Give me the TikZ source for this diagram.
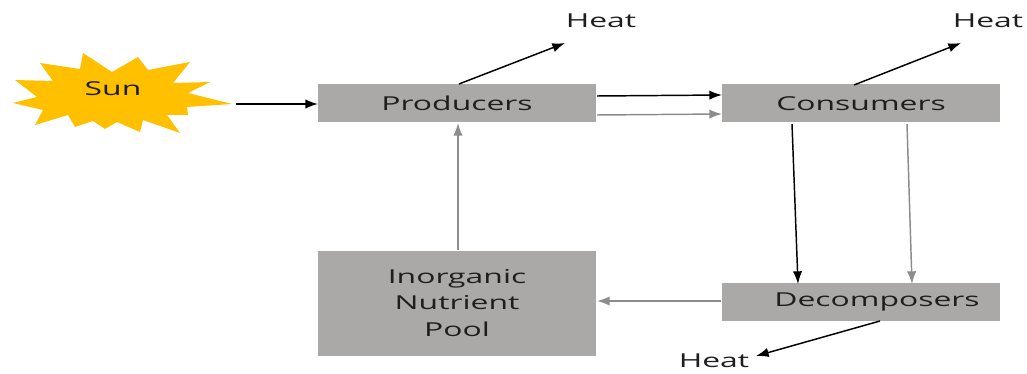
\documentclass[tikz,border=0pt]{standalone}
\usepackage{fontspec}
\setmainfont[FakeStretch=1.66]{Open Sans}
\usetikzlibrary{arrows.meta}
\definecolor{boxgray}{HTML}{ABA8A8}
\definecolor{sunfill}{HTML}{FFC000}
\definecolor{txt}{HTML}{1E1E1E}
\definecolor{flow}{HTML}{8C8C8C}
\tikzset{
  x=0.75pt,y=-0.75pt,
  boxn/.style={fill=boxgray,draw=none,text=txt,font=\fontsize{14.4pt}{20pt}\selectfont,align=center,inner sep=0,outer sep=0},
  lbl/.style={text=txt,font=\fontsize{14.4pt}{20pt}\selectfont,inner sep=0},
  darkflow/.style={draw=black,line width=1.1pt,-{Latex[length=9.5pt,width=7pt]}},
  grayflow/.style={draw=flow,line width=1.1pt,-{Latex[length=9.5pt,width=7pt]}},
}
\begin{document}
\begin{tikzpicture}
\useasboundingbox (0,0) rectangle (1027,374);
\fill[sunfill] (13,103)--(37,97)--(15,80)--(53,81)--(40,63)--(80,69)--(83,53)--(112,72)--(138,57)--(148,70)--(190,62)--(173,83)--(210,82)--(188,93)--(232,104)--(187,107)--(188,115)--(167,115)--(180,133)--(143,120)--(140,132)--(117,122)--(105,129)--(93,121)--(75,127)--(68,115)--(35,125)--(43,110)--cycle;
\node[lbl] (sun) at (113,89) {Sun};
\node[boxn,minimum width=278*0.75pt,minimum height=38*0.75pt] (prod) at (457,103.5) {Producers};
\node[boxn,minimum width=278*0.75pt,minimum height=38*0.75pt] (cons) at (861,103.5) {Consumers};
\node[boxn,minimum width=278*0.75pt,minimum height=38*0.75pt] (decomp) at (861,302) {\hspace*{24pt}Decomposers};
\node[boxn,minimum width=278*0.75pt,minimum height=105*0.75pt] (pool) at (457,303) {Inorganic\\Nutrient\\Pool};
\node[lbl] (heat1) at (601,21) {Heat};
\node[lbl] (heat2) at (988,21) {Heat};
\node[lbl] (heat3) at (714,361) {Heat};
\coordinate (sunE) at (236,104);
\coordinate (prodW) at (318,104);
\draw[darkflow] (sunE) -- (prodW);
\coordinate (p1) at (459,84); \coordinate (h1) at (565,43);
\draw[darkflow] (p1) -- (h1);
\coordinate (c1) at (854,85); \coordinate (h2) at (961,43);
\draw[darkflow] (c1) -- (h2);
\coordinate (d1) at (880,321); \coordinate (h3) at (756,356);
\draw[darkflow] (d1) -- (h3);
\coordinate (p2) at (597,96); \coordinate (c2) at (722,95);
\draw[darkflow] (p2) -- (c2);
\coordinate (p3) at (597,115); \coordinate (c3) at (722,114);
\draw[grayflow] (p3) -- (c3);
\coordinate (c4) at (792,124); \coordinate (d4) at (798,284);
\draw[darkflow] (c4) -- (d4);
\coordinate (c5) at (907,124); \coordinate (d5) at (912,284);
\draw[grayflow] (c5) -- (d5);
\coordinate (d6) at (721,301); \coordinate (q6) at (597,301);
\draw[grayflow] (d6) -- (q6);
\coordinate (q7) at (458,250); \coordinate (p7) at (458,123);
\draw[grayflow] (q7) -- (p7);
\end{tikzpicture}
\end{document}
